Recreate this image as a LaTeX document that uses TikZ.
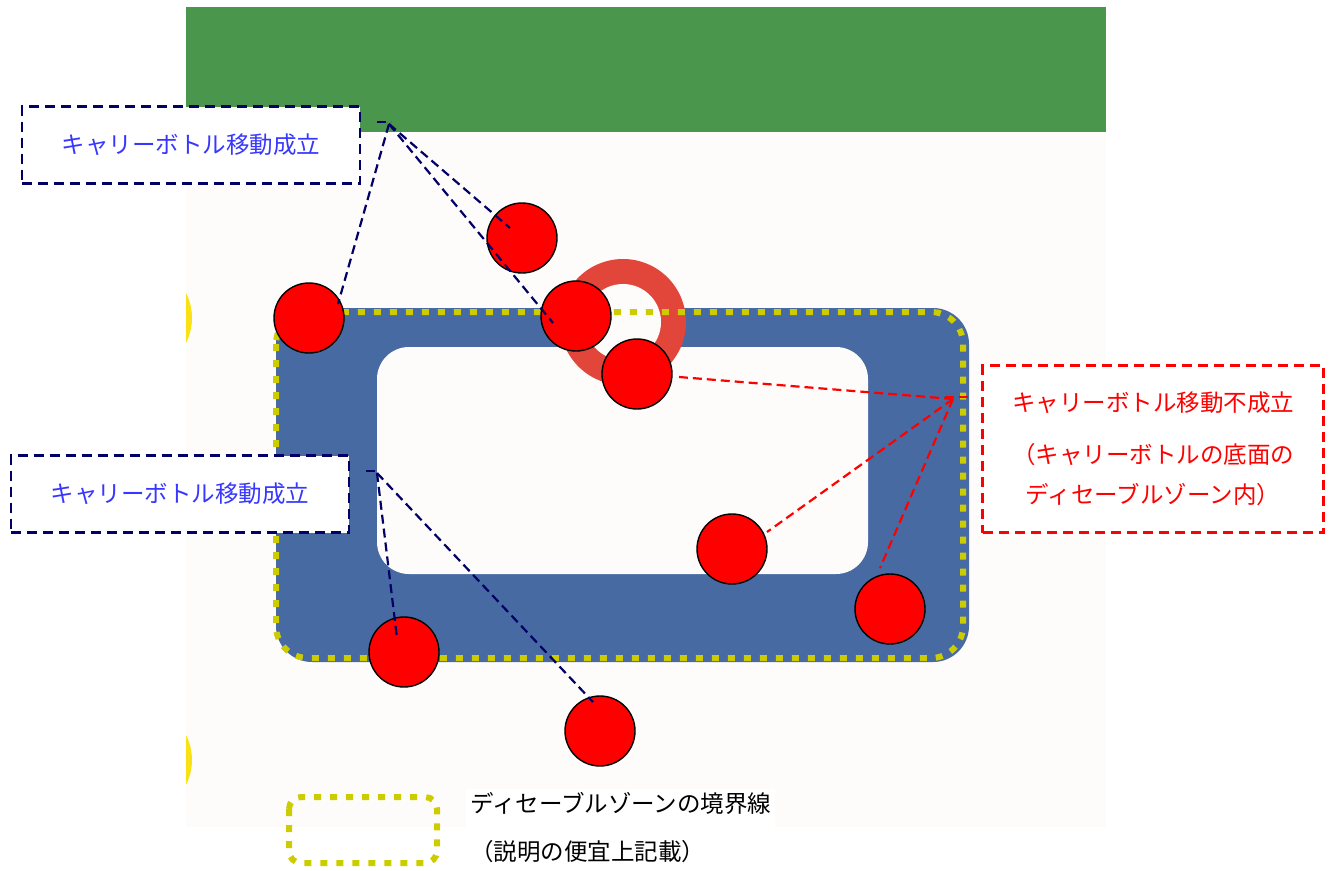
\documentclass[tikz,border=0pt]{standalone}
\usepackage{fontspec}
\setmainfont{Noto Sans CJK JP}
\definecolor{panel}{RGB}{253,252,250}
\definecolor{leafgreen}{RGB}{74,150,77}
\definecolor{bandblue}{RGB}{71,106,163}
\definecolor{zoneyellow}{RGB}{204,204,0}
\definecolor{glow}{RGB}{250,225,20}
\definecolor{ringred}{RGB}{226,70,58}
\definecolor{ballred}{RGB}{255,0,0}
\definecolor{navy}{RGB}{0,0,102}
\definecolor{textblue}{RGB}{55,55,255}
\begin{document}
\begin{tikzpicture}[x=1pt,y=-1pt,
  ball/.style={circle,draw=black,line width=1.4pt,fill=ballred,minimum size=70pt,inner sep=0pt},
  navybox/.style={draw=navy,dash pattern=on 10pt off 6pt,line width=2.8pt,fill=white,
    minimum width=338pt,minimum height=77pt,inner sep=0pt,text=textblue,
    font=\fontsize{23.5}{28}\selectfont},
  redbox/.style={draw=ballred,dash pattern=on 10pt off 6pt,line width=2.8pt,fill=white,
    minimum width=341pt,minimum height=167pt,inner sep=0pt,text=ballred,align=center,
    font=\fontsize{23.5}{41}\selectfont},
  navylead/.style={draw=navy,line width=2.2pt,dash pattern=on 9pt off 5pt},
  redlead/.style={draw=ballred,line width=2.2pt,dash pattern=on 9pt off 5pt},
  zone/.style={draw=zoneyellow,line width=6pt,dash pattern=on 7pt off 9pt},
  legtext/.style={anchor=west,align=left,fill=white,inner sep=4pt,
    font=\fontsize{23.5}{48}\selectfont}
]
\useasboundingbox (0,0) rectangle (1335,870);
% background panel and green strip
\fill[panel] (186,132) rectangle (1106,827);
\fill[leafgreen] (186,7) rectangle (1106,132);
% yellow glows at left edge
\begin{scope}
  \clip (186,250) rectangle (260,820);
  \fill[glow] (137,318) circle (55pt);
  \fill[glow] (137,760) circle (55pt);
\end{scope}
% band
\fill[bandblue, rounded corners=36pt] (276,308) rectangle (969,662);
\fill[panel, rounded corners=32pt] (377,347) rectangle (868,574);
% ring
\fill[ringred] (623,322) circle (63pt);
\fill[panel] (623,322) circle (38pt);
% disable zone boundary
\draw[zone, rounded corners=32pt] (276,312) rectangle (963,658);
% balls
\node[ball] (b1) at (522,238) {};
\node[ball] (b2) at (576,316) {};
\node[ball] (b3) at (637,374) {};
\node[ball] (b4) at (309,318) {};
\node[ball] (b5) at (404,652) {};
\node[ball] (b6) at (600,731) {};
\node[ball] (b7) at (732,549) {};
\node[ball] (b8) at (890,609) {};
% label boxes
\node[navybox] (lab1) at (191,145) {キャリーボトル移動成立};
\node[navybox] (lab2) at (180,494) {キャリーボトル移動成立};
\node[redbox] (lab3) at (1153,449) {キャリーボトル移動不成立\\[11pt]（キャリーボトルの底面の\\[-1pt]ディセーブルゾーン内）};
% leader lines, top-left label
\coordinate (t1a) at (377,122);
\coordinate (t1b) at (391,122);
\coordinate (o1) at (389,124);
\coordinate (e4) at (338,304);
\coordinate (e1) at (510,228);
\coordinate (e2) at (553,323);
\draw[navylead] (t1a) -- (t1b);
\draw[navylead] (o1) -- (e4);
\draw[navylead] (o1) -- (e1);
\draw[navylead] (o1) -- (e2);
% leader lines, left label
\coordinate (t2a) at (366,471);
\coordinate (t2b) at (378,471);
\coordinate (o2) at (377,473);
\coordinate (e5) at (397,638);
\coordinate (e6) at (593,702);
\draw[navylead] (t2a) -- (t2b);
\draw[navylead] (o2) -- (e5);
\draw[navylead] (o2) -- (e6);
% leader lines, right label
\coordinate (t3a) at (945,397);
\coordinate (t3b) at (968,397);
\coordinate (o3) at (953,399);
\coordinate (e3) at (679,377);
\coordinate (e7) at (767,532);
\coordinate (e8) at (880,568);
\draw[redlead] (t3a) -- (t3b);
\draw[redlead] (o3) -- (e3);
\draw[redlead] (o3) -- (e7);
\draw[redlead] (o3) -- (e8);
% legend
\draw[zone, rounded corners=12pt] (289,797) rectangle (437,863);
\node[legtext] (leg) at (466,828) {ディセーブルゾーンの境界線\\（説明の便宜上記載）};
\end{tikzpicture}
\end{document}
